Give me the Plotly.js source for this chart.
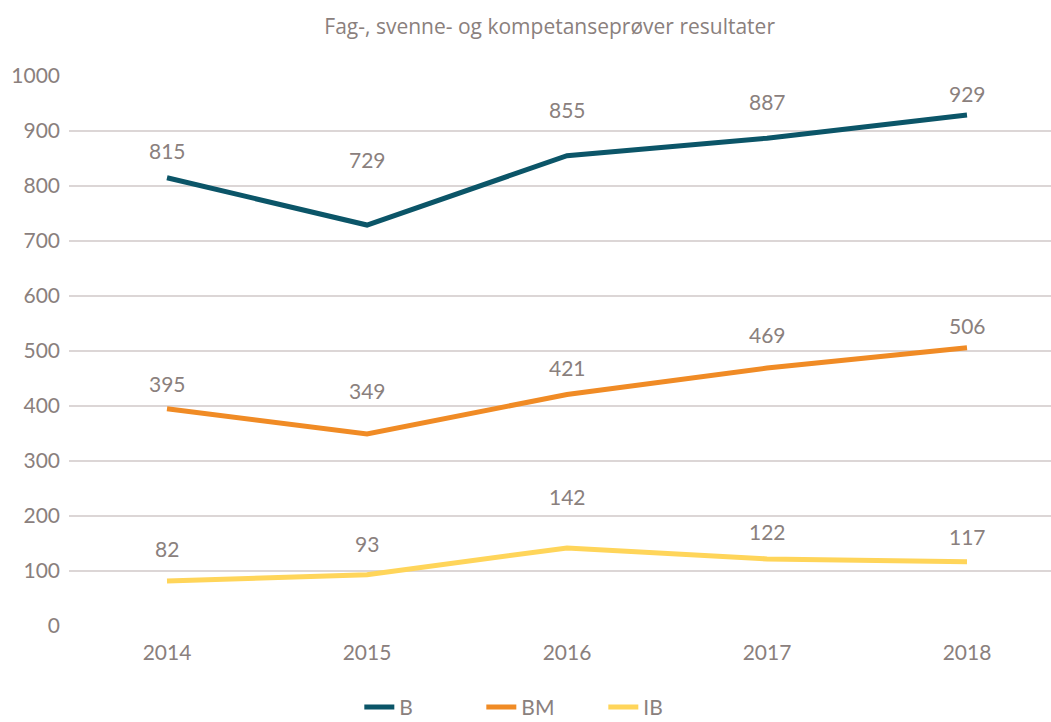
<!DOCTYPE html>
<html>
<head>
<meta charset="utf-8">
<script src="https://cdn.plot.ly/plotly-3.0.1.min.js"></script>
<style>html,body{margin:0;padding:0;background:#fff;}#chart{width:1051px;height:722px;}</style>
</head>
<body>
<div id="chart"></div>
<script>
var years = ['2014', '2015', '2016', '2017', '2018'];
var seriesNames = ['B', 'BM', 'IB'];
var valuesB = [815, 729, 855, 887, 929];
var valuesBM = [395, 349, 421, 469, 506];
var valuesIB = [82, 93, 142, 122, 117];
var yTicks = [0, 100, 200, 300, 400, 500, 600, 700, 800, 900, 1000];

// styling (label offsets in px above each point)
var colors = ['#0b5568', '#f08b25', '#ffd55a'];
var labelShift = [
  [27, 66, 46, 37, 22],
  [25, 44, 27, 34, 22],
  [32, 31, 51, 27, 25]
];
var textColor = '#8a807d';
var fontFam = 'Lato, "Open Sans", sans-serif';

var allValues = [valuesB, valuesBM, valuesIB];
var traces = allValues.map(function (vals, i) {
  return {
    x: years, y: vals, name: seriesNames[i], type: 'scatter', mode: 'lines',
    line: {color: colors[i], width: 5}, hoverinfo: 'skip'
  };
});

var annotations = [];
allValues.forEach(function (vals, i) {
  vals.forEach(function (v, j) {
    annotations.push({
      x: j, y: v, xref: 'x', yref: 'y', text: String(v), showarrow: false,
      yshift: labelShift[i][j], font: {family: fontFam, size: 21, color: textColor}
    });
  });
});

var layout = {
  width: 1051, height: 722,
  margin: {l: 69, r: 0, t: 76, b: 96, autoexpand: false},
  paper_bgcolor: '#fff', plot_bgcolor: '#fff',
  font: {family: fontFam, size: 20, color: textColor},
  title: {text: 'Fag-, svenne- og kompetanseprøver resultater', x: 0.523, xref: 'container', xanchor: 'center', y: 0.963, yanchor: 'middle', font: {family: '"Open Sans", sans-serif', size: 21, color: textColor}},
  xaxis: {type: 'category', range: [-0.49, 4.42], showgrid: false, zeroline: false, showline: false, ticks: '', tickfont: {size: 21, color: textColor}, ticklabelstandoff: 12},
  yaxis: {range: [0, 1000], tickvals: yTicks, showgrid: true, gridcolor: '#dcd6d6', gridwidth: 1.3, zeroline: false, showline: false, ticks: '', tickfont: {size: 21, color: textColor}, ticklabelstandoff: 8},
  showlegend: true,
  legend: {orientation: 'h', x: 0.482, xanchor: 'center', y: -0.148, yanchor: 'middle', font: {size: 21, color: textColor}, entrywidth: 77, entrywidthmode: 'pixels'},
  annotations: annotations
};

Plotly.newPlot('chart', traces, layout, {displayModeBar: false, staticPlot: true});
</script>
</body>
</html>
